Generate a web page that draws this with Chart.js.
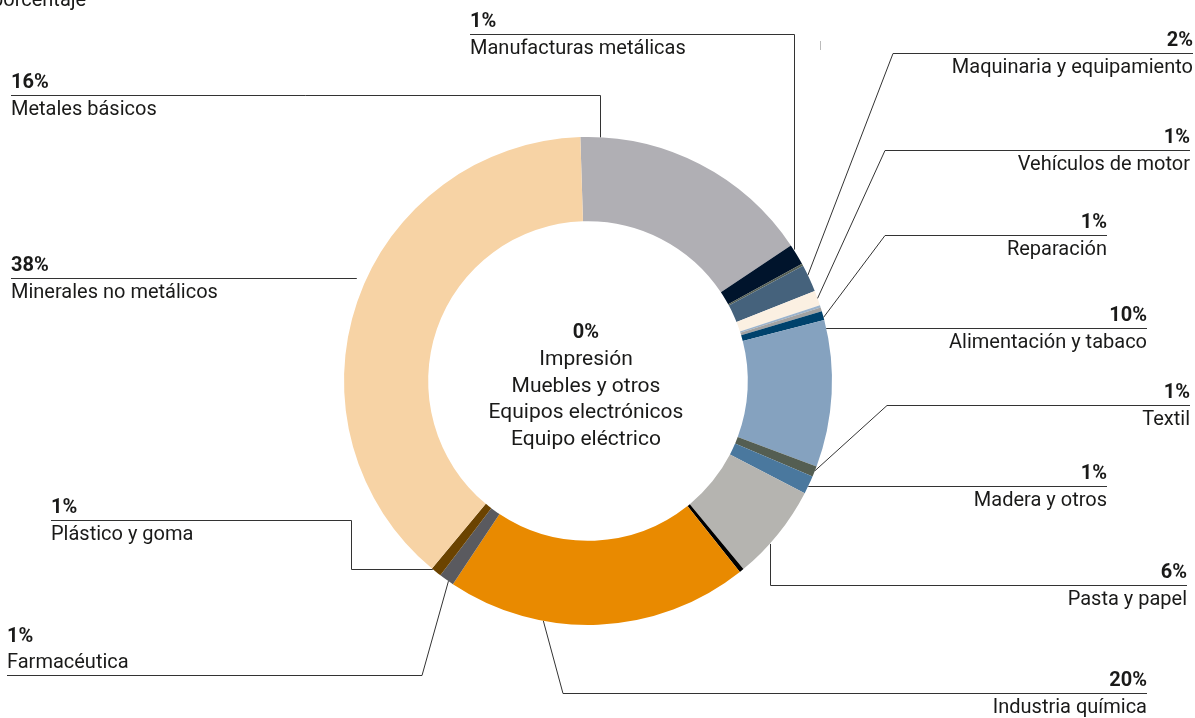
<!DOCTYPE html>
<html lang="es">
<head>
<meta charset="utf-8">
<title>Distribución por sectores</title>
<script src="https://cdn.jsdelivr.net/npm/chart.js@4.4.1/dist/chart.umd.min.js"></script>
<style>
  html, body { margin: 0; padding: 0; background: #fff; }
  #wrap { position: relative; width: 1195px; height: 718px; overflow: hidden; }
</style>
</head>
<body>
<div id="wrap"><canvas id="sectorChart" width="1195" height="718"></canvas></div>
<script>
// sectores en el orden del anillo, desde arriba y en sentido horario
const sectores = [
    "Metales básicos", "Manufacturas metálicas", "Impresión", "Maquinaria y equipamiento",
    "Vehículos de motor", "Muebles y otros", "Equipos electrónicos", "Reparación",
    "Alimentación y tabaco", "Textil", "Madera y otros", "Pasta y papel",
    "Equipo eléctrico", "Industria química", "Farmacéutica", "Plástico y goma",
    "Minerales no metálicos"
];
const valores = [16.1, 1.4, 0.15, 1.8, 1.0, 0.15, 0.25, 0.6, 9.7, 0.7, 1.2, 6.4, 0.3, 20.0, 1.0, 0.7, 38.4];
const colores = [
    "#b0afb4", "#00142c", "#566055", "#45627c",
    "#fbf0e2", "#9bb3cc", "#a2a2a2", "#00426c",
    "#85a2bf", "#545e52", "#4a789e", "#b5b4b0",
    "#000000", "#e98a00", "#5a5a5f", "#6b4300",
    "#f7d3a5"
];
// los que no llegan al 1% se listan en el centro
const enCentro = ["Impresión", "Muebles y otros", "Equipos electrónicos", "Equipo eléctrico"];

// colocación de cada rótulo: x = borde del texto, y = línea guía
const rotulos = {
    "Metales básicos":           { lado: "izq", x: 11,   y: 95,  ruta: "codo",    f: 0.08 },
    "Manufacturas metálicas":    { lado: "izq", x: 470,  y: 34,  ruta: "codo",    f: 0.23 },
    "Maquinaria y equipamiento": { lado: "der", x: 1193, y: 53,  ruta: "diag",    f: 0.38, kx: 893 },
    "Vehículos de motor":        { lado: "der", x: 1190, y: 150, ruta: "diag",    f: 0.52, kx: 885 },
    "Reparación":                { lado: "der", x: 1107, y: 235, ruta: "diag",    f: 0.7,  kx: 885 },
    "Alimentación y tabaco":     { lado: "der", x: 1147, y: 328, ruta: "recta" },
    "Textil":                    { lado: "der", x: 1190, y: 405, ruta: "diag",    f: 0.43, kx: 887 },
    "Madera y otros":            { lado: "der", x: 1107, y: 486, ruta: "recta" },
    "Pasta y papel":             { lado: "der", x: 1187, y: 585, ruta: "codo",    f: 0.63 },
    "Industria química":         { lado: "der", x: 1147, y: 693, ruta: "diag",    f: 0.68, kx: 563 },
    "Farmacéutica":              { lado: "izq", x: 7,    y: 675, ruta: "diag",    f: 0.35, kx: 422, textoArriba: true },
    "Plástico y goma":           { lado: "izq", x: 51,   y: 520, ruta: "escalon", f: 0.9,  kx: 351 },
    "Minerales no metálicos":    { lado: "izq", x: 11,   y: 278, ruta: "suelta" }
};

const FUENTE = "Roboto, 'Noto Sans', sans-serif";
const TINTA = "#1a1a19";

const total = valores.reduce((a, b) => a + b, 0);
const pct = v => Math.round(v / total * 100) + "%";

const rotulosPlugin = {
    id: "rotulosSectores",
    afterDraw(chart) {
        const ctx = chart.ctx;
        const arcos = chart.getDatasetMeta(0).data;
        const { x: cx, y: cy, outerRadius: R } = arcos[0].getProps(["x", "y", "outerRadius"], true);

        ctx.save();
        ctx.strokeStyle = "#333";
        ctx.lineWidth = 1;
        ctx.textBaseline = "alphabetic";

        sectores.forEach((nombre, i) => {
            const e = rotulos[nombre];
            if (!e) return;
            const a = arcos[i].getProps(["startAngle", "endAngle"], true);
            const ang = a.startAngle + (e.f ?? 0.5) * (a.endAngle - a.startAngle);
            const ax = cx + R * Math.cos(ang);
            const ay = cy + R * Math.sin(ang);
            const borde = y => {
                const d = Math.sqrt(Math.max(R * R - (y - cy) * (y - cy), 0));
                return e.lado === "izq" ? cx - d : cx + d;
            };
            const ly = e.y + 0.5;
            let pts;
            switch (e.ruta) {
                case "codo":
                    pts = [[e.x, ly], [Math.round(ax) + 0.5, ly], [Math.round(ax) + 0.5, ay]];
                    break;
                case "diag":
                    pts = [[e.x, ly], [e.kx, ly], [ax, ay]];
                    break;
                case "recta":
                    pts = [[e.x, ly], [borde(e.y), ly]];
                    break;
                case "escalon":
                    pts = [[e.x, ly], [e.kx + 0.5, ly], [e.kx + 0.5, Math.round(ay) + 0.5], [ax, Math.round(ay) + 0.5]];
                    break;
                case "suelta":
                    pts = [[e.x, ly], [borde(e.y) - 10, ly]];
                    break;
            }
            ctx.beginPath();
            pts.forEach(([px, py], k) => k ? ctx.lineTo(px, py) : ctx.moveTo(px, py));
            ctx.stroke();

            ctx.fillStyle = TINTA;
            ctx.textAlign = e.lado === "izq" ? "left" : "right";
            const yPct = e.textoArriba ? e.y - 33 : e.y - 7;
            const yNom = e.textoArriba ? e.y - 7 : e.y + 20;
            ctx.font = "bold 20px " + FUENTE;
            ctx.fillText(pct(valores[i]), e.x, yPct);
            ctx.font = "20px " + FUENTE;
            ctx.fillText(nombre, e.x, yNom);
        });

        // bloque central con los sectores sin peso
        const idx = enCentro.map(n => sectores.indexOf(n));
        ctx.textAlign = "center";
        ctx.fillStyle = TINTA;
        ctx.font = "bold 20px " + FUENTE;
        ctx.fillText(pct(Math.max(...idx.map(k => valores[k]))), cx - 2, 338);
        ctx.font = "21px " + FUENTE;
        enCentro.forEach((n, k) => ctx.fillText(n, cx - 2, 365 + k * 26.7));

        // unidad, cortada en el borde superior
        ctx.font = "20px " + FUENTE;
        ctx.textAlign = "left";
        ctx.fillText("porcentaje", -8, 6);

        // pequeña marca suelta junto a la línea superior
        ctx.strokeStyle = "#bbb";
        ctx.beginPath();
        ctx.moveTo(820.5, 41);
        ctx.lineTo(820.5, 50);
        ctx.stroke();

        ctx.restore();
    }
};

new Chart(document.getElementById("sectorChart").getContext("2d"), {
    type: "doughnut",
    data: {
        labels: sectores,
        datasets: [{
            data: valores,
            backgroundColor: colores,
            borderWidth: 0,
            hoverBorderWidth: 0,
            offset: 0,
            hoverOffset: 0
        }]
    },
    options: {
        responsive: false,
        animation: false,
        events: [],
        rotation: -1.8,
        cutout: "65.5%",
        layout: { padding: { left: 344, right: 363, top: 137, bottom: 93 } },
        plugins: {
            legend: { display: false },
            tooltip: { enabled: false },
            title: { display: false }
        }
    },
    plugins: [rotulosPlugin]
});
</script>
</body>
</html>
